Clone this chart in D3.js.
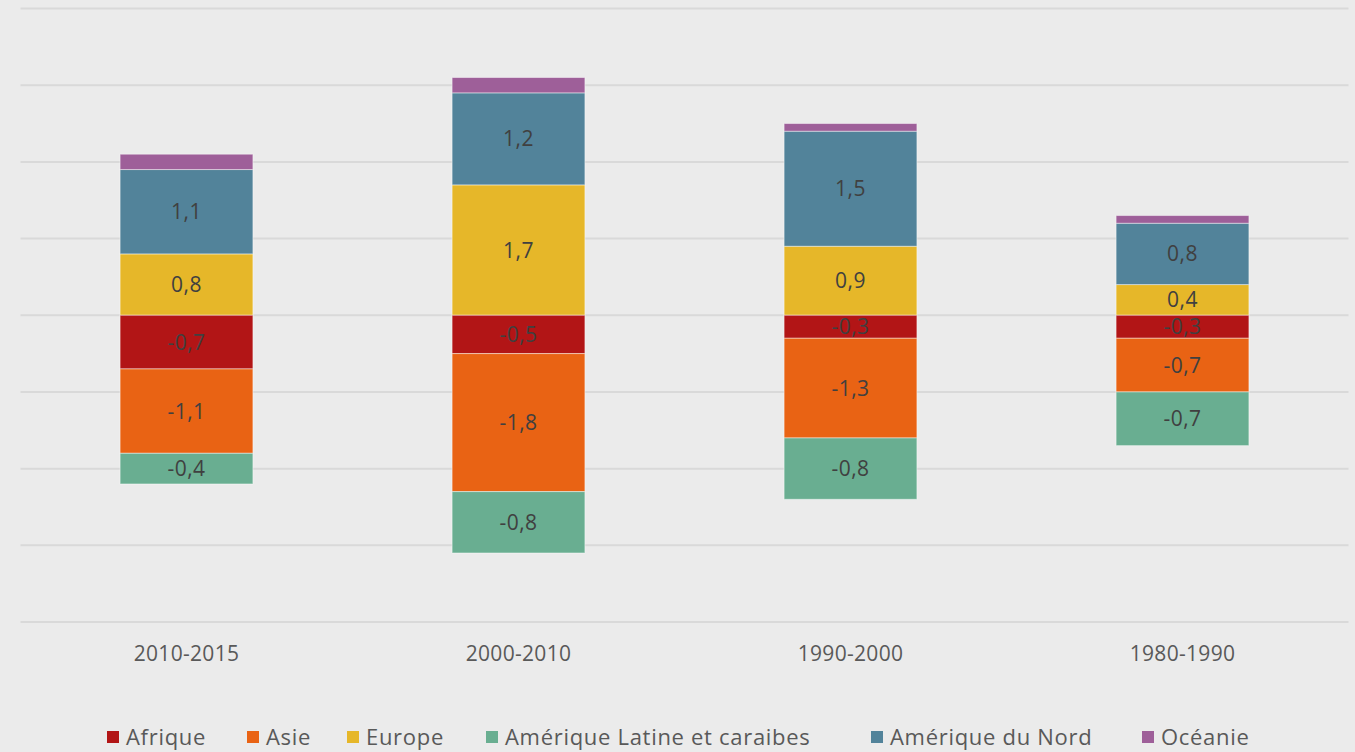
<!DOCTYPE html>
<html><head><meta charset="utf-8">
<script src="https://cdn.jsdelivr.net/npm/d3@7"></script>
<style>
html,body{margin:0;padding:0;background:#ebebeb;}
svg{display:block;font-family:"Open Sans","Lato",sans-serif;}
</style></head>
<body><svg id="c" width="1355" height="752"></svg>
<script>
const categories = ["2010-2015","2000-2010","1990-2000","1980-1990"];
const seriesNames = ["Afrique","Asie","Europe","Amérique Latine et caraibes","Amérique du Nord","Océanie"];
const colors = ["#b21516","#e96314","#e6b729","#69ae91","#52839a","#9e5f99"];
const afrique = [-0.7,-0.5,-0.3,-0.3];
const asie = [-1.1,-1.8,-1.3,-0.7];
const europe = [0.8,1.7,0.9,0.4];
const ameriqueLatine = [-0.4,-0.8,-0.8,-0.7];
const ameriqueNord = [1.1,1.2,1.5,0.8];
const oceanie = [0.2,0.2,0.1,0.1];
const showLabel = [true,true,true,true,true,false];
const yTicks = [-4,-3,-2,-1,0,1,2,3,4];

const seriesVals = [afrique, asie, europe, ameriqueLatine, ameriqueNord, oceanie];
const svg = d3.select("#c");
const x = d3.scaleBand().domain(categories).range([20.5,1348.5]).paddingInner(0.6).paddingOuter(0.3);
const y = d3.scaleLinear().domain([-4,4]).range([622,8.5]);

svg.append("g").selectAll("line").data(yTicks).join("line")
  .attr("x1",20.5).attr("x2",1348.5)
  .attr("y1",d=>y(d)).attr("y2",d=>y(d))
  .attr("stroke","#d9d9d9").attr("stroke-width",2);

const stackOrder = [2,4,5,0,1,3];
const rects = [];
categories.forEach((cat,ci)=>{
  let pos=0, neg=0;
  stackOrder.forEach(si=>{
    const v = seriesVals[si][ci];
    let y0,y1;
    if(v>=0){ y0=pos; y1=pos+v; pos=y1; } else { y0=neg; y1=neg+v; neg=y1; }
    rects.push({cat, si, v, y0, y1});
  });
});
const g = svg.append("g");
g.selectAll("rect").data(rects).join("rect")
  .attr("x",d=>x(d.cat)).attr("width",x.bandwidth())
  .attr("y",d=>Math.min(y(d.y0),y(d.y1)))
  .attr("height",d=>Math.abs(y(d.y0)-y(d.y1)))
  .attr("fill",d=>colors[d.si])
  .attr("stroke","rgba(255,255,255,0.45)").attr("stroke-width",1);

const fmt = v => d3.format(".1f")(v).replace(".",",").replace("−","-");
g.selectAll("text").data(rects.filter(d=>showLabel[d.si])).join("text")
  .attr("x",d=>x(d.cat)+x.bandwidth()/2)
  .attr("y",d=>(y(d.y0)+y(d.y1))/2)
  .attr("dy","0.36em")
  .attr("text-anchor","middle")
  .attr("font-size",21).attr("fill","#404040").attr("letter-spacing","0.5px")
  .text(d=>fmt(d.v));

const xAxis = d3.axisBottom(x).tickSize(0).tickPadding(0);
const ax = svg.append("g").attr("transform","translate(0,"+(y(-4)+24)+")").call(xAxis);
ax.select(".domain").remove();
ax.selectAll("text").attr("font-size",21).attr("fill","#595959")
  .attr("font-family","'Open Sans', Lato, sans-serif").attr("letter-spacing","0.3px");

const legendX = [107,247,347,486,871,1142];
const lg = svg.append("g");
seriesNames.forEach((n,i)=>{
  lg.append("rect").attr("x",legendX[i]).attr("y",731).attr("width",12).attr("height",12).attr("fill",colors[i]);
  lg.append("text").attr("x",legendX[i]+19).attr("y",745).attr("font-size",22)
    .attr("letter-spacing","0.7px").attr("fill","#595959").text(n);
});
</script></body></html>
